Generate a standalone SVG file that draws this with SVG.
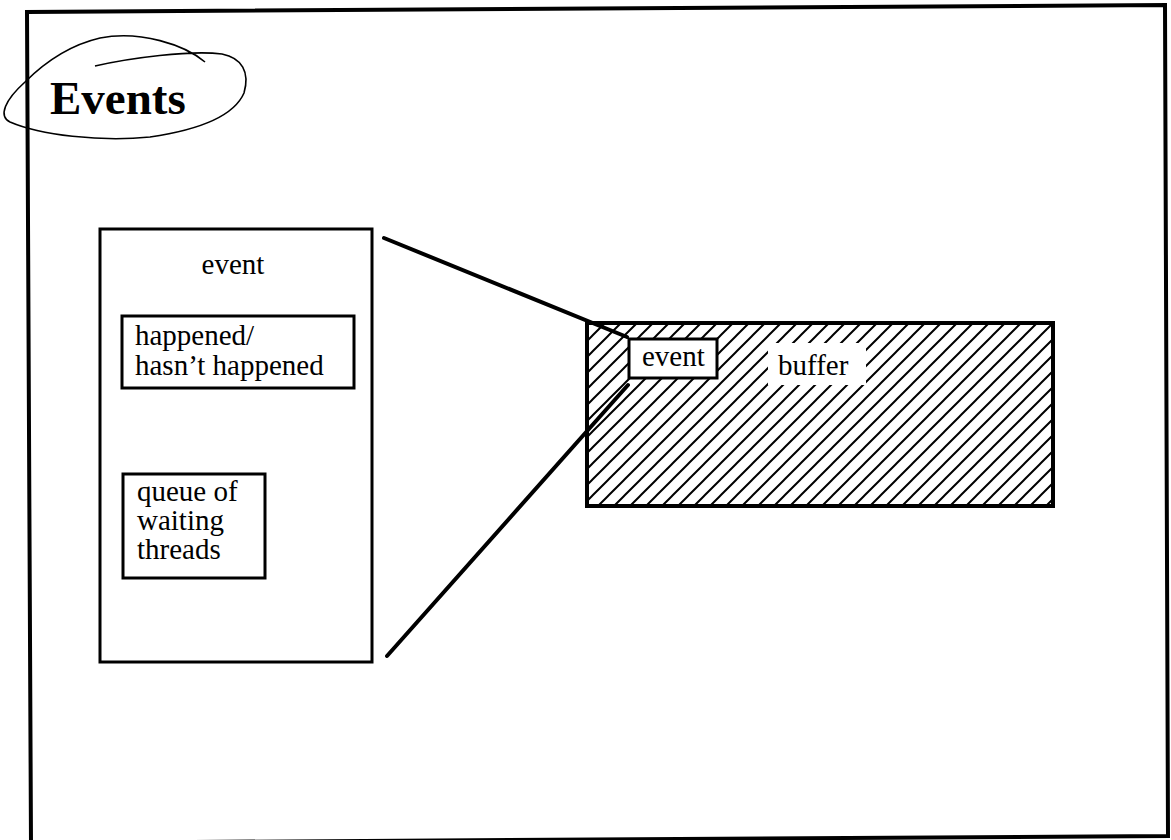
<svg xmlns="http://www.w3.org/2000/svg" width="1171" height="840" viewBox="0 0 1171 840">
  <style>
    .t { font-family: "Liberation Serif", "Times New Roman", serif; font-size: 29px; fill: #000; }
    .title { font-family: "Liberation Serif", "Times New Roman", serif; font-size: 47px; font-weight: bold; fill: #000; }
    .box { fill: #fff; stroke: #000; stroke-width: 3; }
    .conn { stroke: #000; stroke-width: 4; stroke-linecap: round; fill: none; }
  </style>
  <defs>
    <pattern id="hatch" width="16" height="16" patternUnits="userSpaceOnUse">
      <path d="M-4,4 L4,-4 M0,16 L16,0 M12,20 L20,12" stroke="#000" stroke-width="2"/>
    </pattern>
  </defs>
  <rect width="1171" height="840" fill="#fff"/>
  <g id="frame">
    <path d="M31,846 L27,12 L1165,5 L1168,836 L31,843" fill="none" stroke="#000" stroke-width="4"/>
  </g>
  <g id="title">
    <text class="title" x="50" y="114">Events</text>
    <path d="M95,66 C130,58 190,50 222,54 C242,58 250,72 244,93 C234,116 198,130 150,137 C100,142 40,135 10,122 C-2,116 5,100 25,82 C45,62 70,45 100,38 C140,30 185,45 205,62" fill="none" stroke="#000" stroke-width="1.6"/>
  </g>
  <g id="event-struct">
    <rect class="box" x="100" y="229" width="272" height="433"/>
    <text class="t" x="233" y="274" text-anchor="middle">event</text>
  </g>
  <g id="happened">
    <rect class="box" x="122" y="316" width="232" height="72"/>
    <text class="t" x="135" y="345">happened/</text>
    <text class="t" x="135" y="375">hasn’t happened</text>
  </g>
  <g id="queue">
    <rect class="box" x="123" y="474" width="142" height="104"/>
    <text class="t" x="137" y="501" font-size="28">queue of</text>
    <text class="t" x="137" y="530" font-size="28">waiting</text>
    <text class="t" x="137" y="559" font-size="28">threads</text>
  </g>
  <g id="buffer">
    <rect x="587" y="323" width="466" height="183" fill="url(#hatch)" stroke="#000" stroke-width="4"/>
    <rect x="768" y="343" width="98" height="42" fill="#fff"/>
    <text class="t" x="778" y="375">buffer</text>
  </g>
  <g id="connectors">
    <line class="conn" x1="384" y1="238" x2="627" y2="337"/>
    <line class="conn" x1="387" y1="656" x2="628" y2="385"/>
  </g>
  <g id="event-in-buffer">
    <rect class="box" x="629" y="339" width="88" height="39"/>
    <text class="t" x="642" y="366">event</text>
  </g>
</svg>
